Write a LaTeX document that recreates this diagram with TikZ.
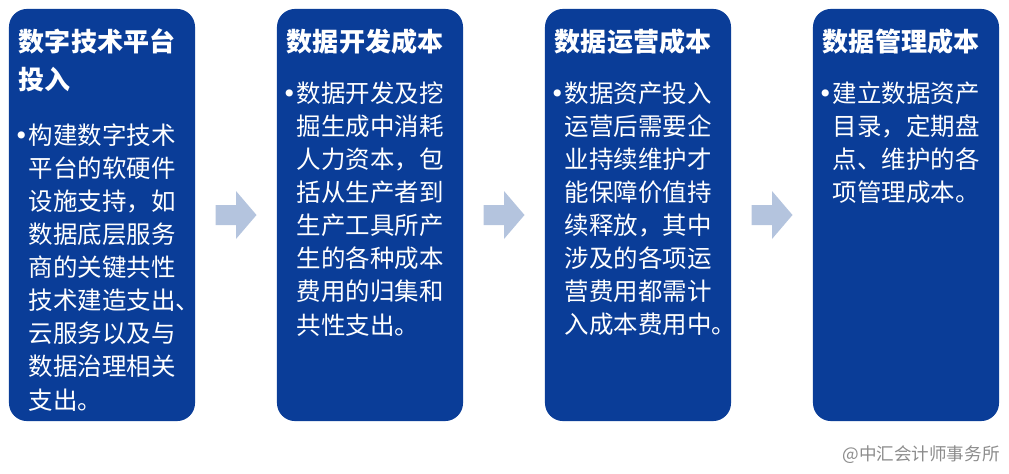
\documentclass[tikz,border=0pt]{standalone}
\usepackage{fontspec}
\setmainfont{Noto Sans CJK SC}
\newfontfamily\dotfont{DejaVu Sans}
\usepackage{tikz}
\usetikzlibrary{positioning, calc}

\definecolor{boxblue}{RGB}{10,61,152}
\definecolor{arrowblue}{RGB}{180,196,222}
\definecolor{markgray}{RGB}{140,140,140}

\tikzset{
    costbox/.style={fill=boxblue, rounded corners=0.45cm, minimum width=4.65cm, minimum height=10.3cm, inner sep=0pt},
    boxtitle/.style={anchor=north west, text=white, align=left, inner sep=0pt, font=\fontsize{18.5pt}{26.5pt}\selectfont\bfseries},
    boxbody/.style={anchor=north west, text=white, align=left, inner sep=0pt, font=\fontsize{17.4pt}{23.5pt}\selectfont},
    flowarrow/.style={fill=arrowblue}
}

\newcommand{\dotitem}{\llap{{\dotfont •}\kern0.02em}}

\begin{document}
\begin{tikzpicture}[x=0.025cm, y=-0.025cm]
    \useasboundingbox (0,0) rectangle (1009,474);

    % Define nodes
    \node[costbox] (b1) at (102,215) {};
    \node[costbox] (b2) at (370,215) {};
    \node[costbox] (b3) at (638,215) {};
    \node[costbox] (b4) at (906,215) {};

    \node[boxtitle] (t1) at ($(b1.north west)+(10,20)$) {数字技术平台\\投入};
    \node[boxtitle] (t2) at ($(b2.north west)+(10,20)$) {数据开发成本};
    \node[boxtitle] (t3) at ($(b3.north west)+(10,20)$) {数据运营成本};
    \node[boxtitle] (t4) at ($(b4.north west)+(10,20)$) {数据管理成本};

    \node[boxbody] (d1) at ($(b1.north west)+(20,115)$) {\dotitem 构建数字技术\\平台的软硬件\\设施支持，如\\数据底层服务\\商的关键共性\\技术建造支出、\\云服务以及与\\数据治理相关\\支出。};
    \node[boxbody] (d2) at ($(b2.north west)+(20,73)$) {\dotitem 数据开发及挖\\掘生成中消耗\\人力资本，包\\括从生产者到\\生产工具所产\\生的各种成本\\费用的归集和\\共性支出。};
    \node[boxbody] (d3) at ($(b3.north west)+(20,73)$) {\dotitem 数据资产投入\\运营后需要企\\业持续维护才\\能保障价值持\\续释放，其中\\涉及的各项运\\营费用都需计\\入成本费用中。};
    \node[boxbody] (d4) at ($(b4.north west)+(20,73)$) {\dotitem 建立数据资产\\目录，定期盘\\点、维护的各\\项管理成本。};

    \node[anchor=east, text=markgray, inner sep=0pt, font=\fontsize{12.5pt}{14pt}\selectfont] (mark) at (1000,455) {@中汇会计师事务所};

    % Draw arrows
    \foreach \a/\b in {b1/b2, b2/b3, b3/b4} {
        \coordinate (mid) at ($(\a.east)!0.5!(\b.west)$);
        \fill[flowarrow] ($(mid)+(-20.5,-10)$) -- ($(mid)+(0,-10)$) -- ($(mid)+(0,-24)$)
            -- ($(mid)+(20.5,0)$) -- ($(mid)+(0,24)$) -- ($(mid)+(0,10)$)
            -- ($(mid)+(-20.5,10)$) -- cycle;
    }
\end{tikzpicture}
\end{document}
